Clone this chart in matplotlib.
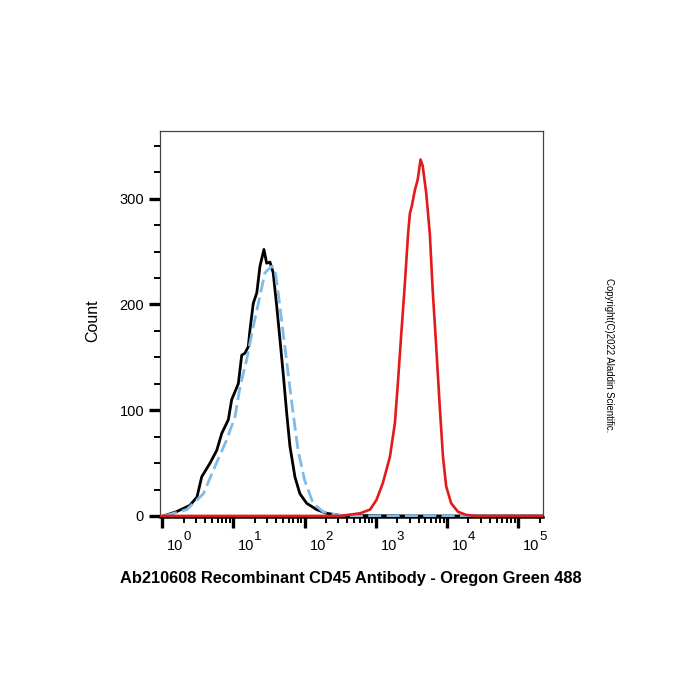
import matplotlib
matplotlib.use('Agg')
import matplotlib.pyplot as plt
import matplotlib.transforms as mtransforms
from matplotlib.ticker import LogLocator, FixedLocator, NullFormatter
import numpy as np

plt.rcParams['font.family'] = ['Liberation Sans', 'DejaVu Sans']

# log10 of fluorescence intensity vs. count
black_log = [0.02, 0.2, 0.39, 0.49, 0.556, 0.673, 0.767, 0.837, 0.93, 0.977, 1.07, 1.118,
             1.164, 1.21, 1.234, 1.28, 1.33, 1.374, 1.43, 1.468, 1.515, 1.56, 1.61, 1.655,
             1.70, 1.75, 1.795, 1.865, 1.935, 2.03, 2.17, 2.31, 2.5, 3.5, 5.34]
black_count = [0, 4, 10, 18, 37, 50, 62, 78, 91, 110, 125, 152,
               154, 160, 176, 201, 211, 236, 252, 239, 240, 230, 198, 167,
               135, 97, 66, 37, 21, 12, 6, 2.5, 0.5, 0, 0]

blue_log = [0.03, 0.346, 0.58, 0.743, 0.907, 1.024, 1.094, 1.188, 1.28, 1.374, 1.445,
            1.538, 1.585, 1.63, 1.70, 1.77, 1.84, 1.91, 2.0, 2.12, 2.26, 2.45, 2.6, 5.34]
blue_count = [0, 6, 21, 47, 72, 94, 122, 148, 179, 208, 230,
              236, 233, 211, 173, 135, 97, 62, 34, 12, 4, 1, 0, 0]

red_log = [-0.03, 2.5, 2.78, 2.92, 3.01, 3.10, 3.20, 3.27, 3.315, 3.36, 3.41, 3.455, 3.48,
           3.51, 3.55, 3.59, 3.63, 3.66, 3.71, 3.76, 3.80, 3.85, 3.90, 3.945, 3.99,
           4.06, 4.155, 4.27, 4.4, 5.35]
red_count = [0, 0, 2.5, 6, 15, 31, 56, 88, 129, 173, 220, 267, 286,
             294, 308, 318, 337, 331, 305, 267, 214, 160, 103, 56, 28,
             12, 4, 1, 0, 0]

decades = [0, 1, 2, 3, 4, 5]
title = 'Ab210608 Recombinant CD45 Antibody - Oregon Green 488'
copyright_text = 'Copyright(C)2022 Aladdin Scientific.'

fig = plt.figure(figsize=(7, 7), dpi=100)
ax = fig.add_axes([160 / 700, 1 - 517 / 700, 383 / 700, 386 / 700])

ax.plot(10 ** np.array(black_log), black_count, color='black', lw=2.0, zorder=3)
ax.plot(10 ** np.array(blue_log), blue_count, color='#7fbbe9', lw=2.0,
        dashes=(4.7, 1.9), zorder=4)
ax.plot(10 ** np.array(red_log), red_count, color='#e21a1a', lw=1.9, zorder=5)

ax.set_xscale('log')
ax.set_xlim(10 ** -0.03, 10 ** 5.35)
ax.set_ylim(-1, 364)

ax.xaxis.set_major_locator(LogLocator(base=10, numticks=10))
ax.xaxis.set_minor_locator(LogLocator(base=10, subs=np.arange(2, 10), numticks=20))
ax.xaxis.set_major_formatter(NullFormatter())
ax.xaxis.set_minor_formatter(NullFormatter())
ax.yaxis.set_major_locator(FixedLocator([0, 100, 200, 300]))
ax.yaxis.set_minor_locator(FixedLocator(np.arange(25, 364, 25)))

ax.tick_params(axis='both', which='major', direction='out', length=8, width=2.4,
               color='black', labelsize=10.5)
ax.tick_params(axis='both', which='minor', direction='out', length=4.5, width=1.4,
               color='black')

# decade labels: "10" with a large raised exponent, a bit right of each tick
xtrans = mtransforms.blended_transform_factory(ax.transData, ax.transAxes)
for d in decades:
    base_off = mtransforms.ScaledTranslation(5 / 100, -29 / 100, fig.dpi_scale_trans)
    exp_off = mtransforms.ScaledTranslation(21 / 100, -20 / 100, fig.dpi_scale_trans)
    ax.text(10.0 ** d, 0, '10', transform=xtrans + base_off, ha='left', va='center',
            fontsize=10.5, clip_on=False)
    ax.text(10.0 ** d, 0, str(d), transform=xtrans + exp_off, ha='left', va='center',
            fontsize=9.5, clip_on=False)

for side in ['left', 'top', 'right']:
    ax.spines[side].set_color('#444444')
    ax.spines[side].set_linewidth(0.9)
ax.spines['bottom'].set_color('black')
ax.spines['bottom'].set_linewidth(1.8)

fig.text(93 / 700, 1 - 321 / 700, 'Count', rotation=90, ha='center', va='center',
         fontsize=11.5)
fig.text(351 / 700, 1 - 578 / 700, title, ha='center', va='center',
         fontsize=11.8, fontweight='bold')
fig.text(609 / 700, 1 - 355 / 700, copyright_text, rotation=-90, ha='center',
         va='center', fontsize=6.9)

fig.savefig('out.png', dpi=100)
